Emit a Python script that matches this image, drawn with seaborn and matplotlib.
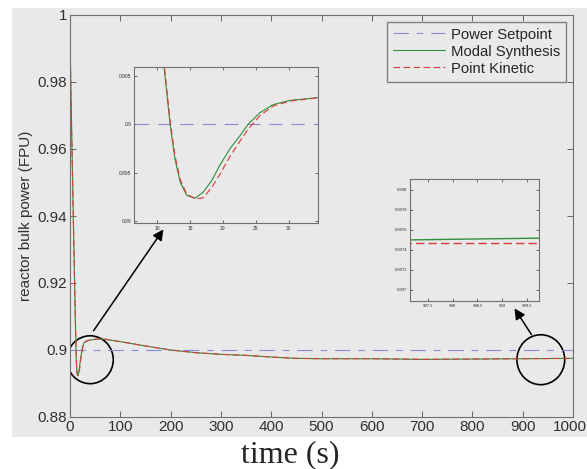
import numpy as np
import pandas as pd
import seaborn as sns
import matplotlib.pyplot as plt
import matplotlib.transforms as mtransforms
from matplotlib.patches import Rectangle, Ellipse
from matplotlib.ticker import FuncFormatter

# reactor bulk power response
time_s = [0, 1, 2, 4, 6, 8, 10, 11.06, 11.97, 12.7, 13.5, 14.5, 15.76, 17.0, 18.3,
          19.5, 21.06, 22.6, 23.8, 25.6, 27.6, 30.15, 34.4, 38, 45, 55, 70, 100,
          150, 200, 250, 300, 350, 400, 450, 500, 600, 700, 800, 900, 1000]
modal_synthesis = [0.9925, 0.985, 0.976, 0.960, 0.944, 0.929, 0.9135, 0.9059, 0.9000,
                   0.89645, 0.89403, 0.89265, 0.89237, 0.89299, 0.8942, 0.89576,
                   0.89749, 0.89886, 0.9000, 0.90121, 0.90204, 0.90248, 0.90276,
                   0.9029, 0.9031, 0.9033, 0.9032, 0.9025, 0.9012, 0.9000, 0.8992,
                   0.8987, 0.8984, 0.8979, 0.8975, 0.8974, 0.8974, 0.8972, 0.8973,
                   0.8974, 0.8975]
point_kinetic = [0.9925, 0.985, 0.976, 0.960, 0.944, 0.929, 0.9138, 0.9063, 0.9004,
                 0.8968, 0.8943, 0.8928, 0.8923, 0.8924, 0.8935, 0.8948, 0.8967,
                 0.8983, 0.8995, 0.9009, 0.9019, 0.9024, 0.90275, 0.9029, 0.9031,
                 0.9033, 0.9032, 0.9025, 0.9012, 0.9000, 0.8992, 0.8987, 0.8984,
                 0.8979, 0.8975, 0.8974, 0.8974, 0.8972, 0.8973, 0.8974, 0.8975]
setpoint_t = [0, 1000]
setpoint = [0.9, 0.9]

# end of the run (second zoom)
tail_t = [997.0, 998.4, 998.4, 1000.0]
tail_modal = [0.89750, 0.89750, 0.89752, 0.89752]
tail_point = [0.89747, 0.89747, 0.89747, 0.89747]

main_xticks = list(range(0, 1001, 100))
main_yticks = [0.88, 0.9, 0.92, 0.94, 0.96, 0.98, 1.0]
zoom1_xticks = [10, 15, 20, 25, 30]
zoom1_yticks = [0.89, 0.895, 0.9, 0.905]
zoom2_xticks = [997.5, 998, 998.5, 999, 999.5]
zoom2_yticks = [0.897, 0.8972, 0.8974, 0.8976, 0.8978, 0.898]

sns.set_style('ticks')
plt.rcParams['font.family'] = ['Liberation Sans', 'DejaVu Sans']

bg = '#e9e9e9'
c_set = '#8888d8'
c_modal = '#2f8f3a'
c_point = '#d83a3a'
set_dash = (0, (14, 7, 6, 7))
pk_dash = (0, (6, 3))

df = pd.DataFrame({'t': time_s, 'modal': modal_synthesis, 'point': point_kinetic})
sp = pd.DataFrame({'t': setpoint_t, 'p': setpoint})
tail = pd.DataFrame({'t': tail_t, 'modal': tail_modal, 'point': tail_point})

fig = plt.figure(figsize=(5.87, 4.69), dpi=100)
fig.patch.set_facecolor('white')
fig.patches.append(Rectangle((12/587, 32/469), 575/587, 429/469, transform=fig.transFigure,
                             facecolor=bg, edgecolor='none', zorder=-10))

fmt = FuncFormatter(lambda v, p: f'{v:g}')


def style_axes(ax, size, ticklen):
    ax.set_facecolor(bg)
    for s in ax.spines.values():
        s.set_color('#707070')
        s.set_linewidth(0.8)
    ax.tick_params(direction='in', top=True, right=True, length=ticklen, width=0.6,
                   color='#505050', labelsize=size, labelcolor='#303030', pad=2)
    ax.xaxis.set_major_formatter(fmt)
    ax.yaxis.set_major_formatter(fmt)


# main axes
ax = fig.add_axes([70/587, 52/469, 503/587, 402/469])
sns.lineplot(data=sp, x='t', y='p', ax=ax, color=c_set, lw=0.8, linestyle=set_dash,
             label='Power Setpoint')
sns.lineplot(data=df, x='t', y='modal', ax=ax, color=c_modal, lw=0.8, label='Modal Synthesis')
sns.lineplot(data=df, x='t', y='point', ax=ax, color=c_point, lw=0.8, linestyle=pk_dash,
             label='Point Kinetic')
ax.set_xlim(0, 1000)
ax.set_ylim(0.88, 1.0)
ax.set_xticks(main_xticks)
ax.set_yticks(main_yticks)
style_axes(ax, 11, 4)
ax.set_xlabel('')
ax.set_ylabel('reactor bulk power (FPU)', fontsize=11, color='#303030', labelpad=3)
# keep the last x label inside the picture
last = ax.get_xticklabels()[-1]
last.set_transform(last.get_transform() +
                   mtransforms.ScaledTranslation(-3/100, 0, fig.dpi_scale_trans))
leg = ax.legend(loc='upper right', fontsize=10.7, handlelength=3.5, fancybox=False,
                borderaxespad=0.45, labelspacing=0.2, handletextpad=0.4)
leg.get_frame().set_facecolor(bg)
leg.get_frame().set_edgecolor('#808080')
leg.get_frame().set_alpha(1)

# circles around the zoomed regions
ax.add_patch(Ellipse((40, 0.8971), 92, 0.0143, facecolor='none', edgecolor='black', lw=1.2))
ax.add_patch(Ellipse((936, 0.8971), 95, 0.0149, facecolor='none', edgecolor='black', lw=1.2))

fig.text(290/587, 1 - 455/469, 'time (s)', ha='center', va='center', fontsize=23,
         family=['Liberation Serif', 'DejaVu Serif'])

# zoom 1
ax1 = fig.add_axes([134/587, 246/469, 184/587, 156/469])
sns.lineplot(data=sp, x='t', y='p', ax=ax1, color=c_set, lw=0.8, linestyle=(0, (12, 8)),
             legend=False)
sns.lineplot(data=df, x='t', y='modal', ax=ax1, color=c_modal, lw=0.8, legend=False)
sns.lineplot(data=df, x='t', y='point', ax=ax1, color=c_point, lw=0.8, linestyle=pk_dash,
             legend=False)
ax1.set_xlim(6.5, 34.4)
ax1.set_ylim(0.8898, 0.90593)
ax1.set_xticks(zoom1_xticks)
ax1.set_yticks(zoom1_yticks)
style_axes(ax1, 3.5, 2)
ax1.set_xlabel('')
ax1.set_ylabel('')

# zoom 2
ax2 = fig.add_axes([410/587, 168/469, 129/587, 122/469])
sns.lineplot(data=tail, x='t', y='modal', ax=ax2, color=c_modal, lw=1.0, legend=False)
sns.lineplot(data=tail, x='t', y='point', ax=ax2, color=c_point, lw=1.0, linestyle=pk_dash,
             legend=False)
ax2.set_xlim(997.14, 999.74)
ax2.set_ylim(0.89689, 0.89811)
ax2.set_xticks(zoom2_xticks)
ax2.set_yticks(zoom2_yticks)
style_axes(ax2, 3, 2)
ax2.set_xlabel('')
ax2.set_ylabel('')

# arrows from circles to zooms
arrow = dict(arrowstyle='-|>', color='black', lw=1.1, mutation_scale=16)
ax.annotate('', xy=(165, 242), xytext=(92, 136), xycoords='figure pixels',
            textcoords='figure pixels', arrowprops=arrow, annotation_clip=False)
ax.annotate('', xy=(513, 163), xytext=(533, 132), xycoords='figure pixels',
            textcoords='figure pixels', arrowprops=arrow, annotation_clip=False)

fig.savefig('out.png', dpi=100, facecolor='white')
